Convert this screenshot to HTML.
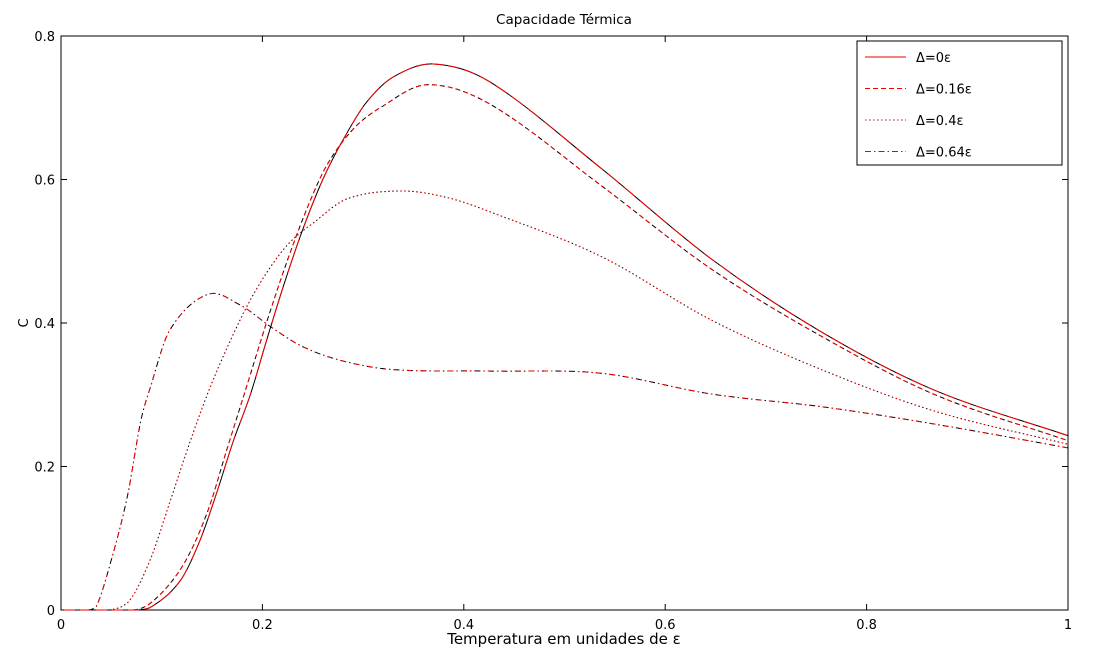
<!DOCTYPE html>
<html><head><meta charset="utf-8"><style>
body{margin:0;background:#fff;}
svg{display:block;font-family:"DejaVu Sans","Liberation Sans",sans-serif;}
</style></head><body>
<svg id="chart" width="1118" height="655">
<rect x="0" y="0" width="1118" height="655" fill="#fff"/>
<g id="plot"></g>
</svg>
<script>
const xs0 = [0,0.07,0.088,0.118,0.138,0.155,0.171,0.188,0.204,0.221,0.24,0.260,0.28,0.303,0.330,0.370,0.426,0.536,0.646,0.757,0.868,1.0];
const c0  = [0,0,0.003,0.04,0.097,0.165,0.235,0.30,0.375,0.452,0.53,0.60,0.655,0.707,0.743,0.761,0.736,0.616,0.489,0.386,0.306,0.243];
const xs16 = [0,0.07,0.091,0.121,0.145,0.165,0.184,0.204,0.224,0.245,0.264,0.290,0.317,0.363,0.426,0.536,0.646,0.757,0.868,1.0];
const c16  = [0,0,0.012,0.062,0.135,0.225,0.31,0.40,0.484,0.562,0.62,0.67,0.70,0.732,0.705,0.592,0.475,0.38,0.30,0.236];
const xs40 = [0,0.04,0.066,0.088,0.108,0.128,0.148,0.168,0.188,0.208,0.227,0.251,0.284,0.337,0.383,0.426,0.536,0.646,0.757,0.868,1.0];
const c40  = [0,0,0.01,0.068,0.15,0.234,0.31,0.375,0.432,0.478,0.512,0.54,0.573,0.584,0.575,0.555,0.493,0.404,0.334,0.277,0.231];
const xs64 = [0,0.025,0.035,0.050,0.066,0.079,0.088,0.108,0.146,0.178,0.209,0.24,0.28,0.330,0.426,0.536,0.646,0.757,0.868,1.0];
const c64  = [0,0,0.005,0.07,0.159,0.262,0.307,0.39,0.44,0.425,0.394,0.367,0.347,0.335,0.333,0.33,0.301,0.283,0.259,0.226];
const xTicks = [0,0.2,0.4,0.6,0.8,1];
const yTicks = [0,0.2,0.4,0.6,0.8];
const legendLabels = ["Δ=0ε","Δ=0.16ε","Δ=0.4ε","Δ=0.64ε"];

const L=61,R=1068,T=36,B=610;
const X=v=>L+v*(R-L), Y=v=>B-v/0.8*(B-T);
const NS="http://www.w3.org/2000/svg";
const g=document.getElementById('plot');
function mk(tag,attrs,parent){const e=document.createElementNS(NS,tag);for(const k in attrs)e.setAttribute(k,attrs[k]);(parent||g).appendChild(e);return e;}
function txt(s,attrs){const e=mk('text',Object.assign({'font-size':13,fill:'#000'},attrs));e.textContent=s;return e;}

let box=mk('rect',{x:L,y:T,width:R-L,height:B-T,fill:'none',stroke:'#000','stroke-width':1});



xTicks.forEach(t=>{
  const x=X(t);
  mk('line',{x1:x,x2:x,y1:B,y2:B-6,stroke:'#000'});
  mk('line',{x1:x,x2:x,y1:T,y2:T+6,stroke:'#000'});
  const e=txt(String(t),{x:x,y:B+19,'text-anchor':'middle'});
  
  
});
yTicks.forEach(t=>{
  const y=Y(t);
  mk('line',{x1:L,x2:L+6,y1:y,y2:y,stroke:'#000'});
  mk('line',{x1:R,x2:R-6,y1:y,y2:y,stroke:'#000'});
  const e=txt(String(t),{x:L-6,y:y+5,'text-anchor':'end'});
  
  
});
let t1=txt('Capacidade Térmica',{x:564,y:24,'text-anchor':'middle','font-size':13.5});


let t2=txt('Temperatura em unidades de ε',{x:564,y:644,'text-anchor':'middle','font-size':15});


let t3=txt('C',{x:0,y:0,'font-size':13,'text-anchor':'middle',transform:'translate(28,323) rotate(-90)'});



function pathD(xs,ys){
  const p=xs.map((x,i)=>[X(x),Y(ys[i])]);
  let d='M'+p[0][0]+','+p[0][1];
  for(let i=0;i<p.length-1;i++){
    const p0=p[i-1]||p[i],p1=p[i],p2=p[i+1],p3=p[i+2]||p2;
    const h=p2[0]-p1[0];
    let m1=(p2[1]-p0[1])/((p2[0]-p0[0])||1), m2=(p3[1]-p1[1])/((p3[0]-p1[0])||1);
    if(p1[1]>=B-0.01) m1=0;
    if(p2[1]>=B-0.01) m2=0;
    const c1y=Math.min(B,p1[1]+m1*h/3), c2y=Math.min(B,p2[1]-m2*h/3);
    d+=`C${p1[0]+h/3},${c1y} ${p2[0]-h/3},${c2y} ${p2[0]},${p2[1]}`;
  }
  return d;
}
const styles=[null,'5,3','1.5,2.5','6,3,1.5,3'];
const series=[[xs0,c0],[xs16,c16],[xs40,c40],[xs64,c64]];
const names=['series-delta-0','series-delta-016','series-delta-04','series-delta-064'];
const defs=mk('defs',{});
const cp=mk('clipPath',{id:'redclip'},defs);
for(let x=0;x<1118;x+=16){mk('rect',{x:x,y:0,width:11,height:655},cp);}
series.forEach((s,i)=>{
  const d=pathD(s[0],s[1]);
  const a={d:d,fill:'none',stroke:'#000','stroke-width':1};
  if(styles[i])a['stroke-dasharray']=styles[i];
  mk('path',a);
  const a2=Object.assign({},a,{stroke:'#e00'});
  a2['clip-path']='url(#redclip)';
  const e=mk('path',a2);
  
  
});

const lg=mk('g',{});


mk('rect',{x:857,y:41,width:205,height:124,fill:'#fff',stroke:'#000'},lg);
legendLabels.forEach((s,i)=>{
  const y=57+i*31.5;
  const a={x1:865,x2:906,y1:y,y2:y,stroke:'#e00','stroke-width':1};
  if(styles[i])a['stroke-dasharray']=styles[i];
  mk('line',a,lg);
  const e=mk('text',{x:916,y:y+5,'font-size':13},lg);
  e.textContent=s;
  
  
});
</script>
</body></html>
